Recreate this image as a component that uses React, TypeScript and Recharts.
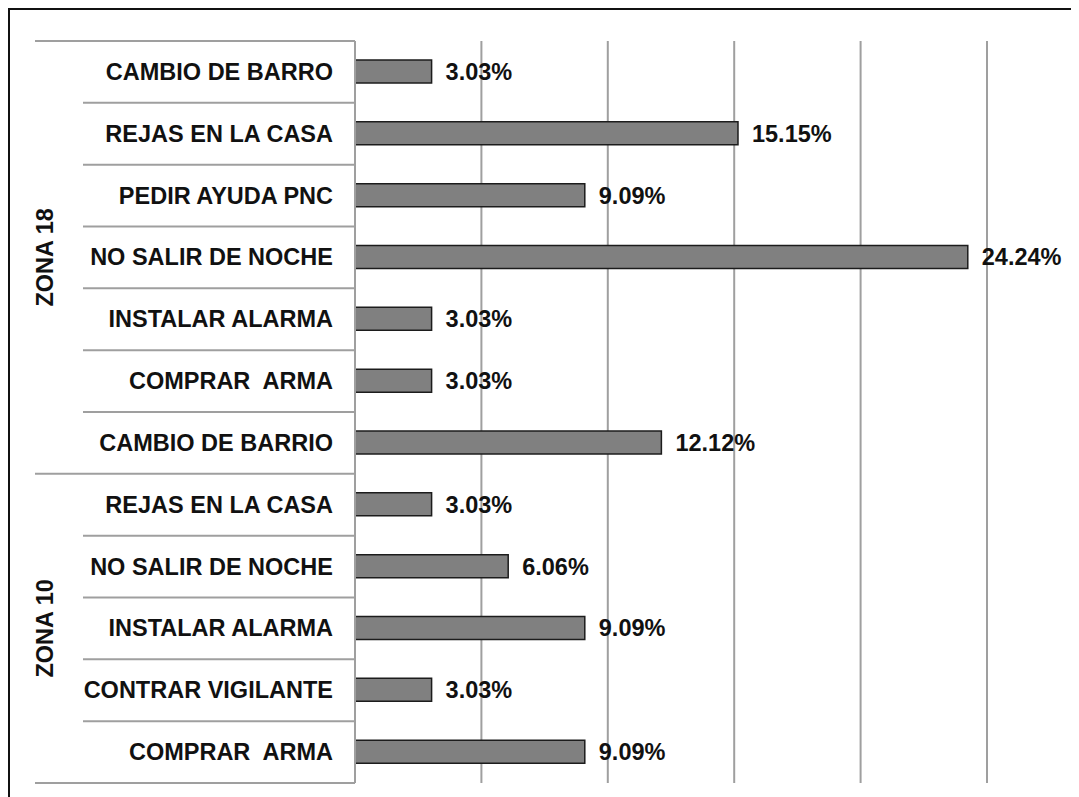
import React from "react";
import { BarChart, Bar, XAxis, YAxis, CartesianGrid, LabelList } from "recharts";

const labels = [
  "CAMBIO DE BARRO",
  "REJAS EN LA CASA",
  "PEDIR AYUDA PNC",
  "NO SALIR DE NOCHE",
  "INSTALAR ALARMA",
  "COMPRAR  ARMA",
  "CAMBIO DE BARRIO",
  "REJAS EN LA CASA",
  "NO SALIR DE NOCHE",
  "INSTALAR ALARMA",
  "CONTRAR VIGILANTE",
  "COMPRAR  ARMA",
];
const values = [3.03, 15.15, 9.09, 24.24, 3.03, 3.03, 12.12, 3.03, 6.06, 9.09, 3.03, 9.09];
const groups = [
  { name: "ZONA 18", start: 0, count: 7 },
  { name: "ZONA 10", start: 7, count: 5 },
];
const xTicks = [0, 5, 10, 15, 20, 25];

const data = labels.map((label, i) => ({ id: String(i), label, value: values[i] }));

const W = 1061;
const H = 785;
const M = { top: 31, right: 84, bottom: 12, left: 0 };
const AXIS_W = 345;
const ROW_H = (H - M.top - M.bottom) / labels.length;
const FONT = "'Liberation Sans', Arial, sans-serif";
const FS = 23.5;
const LINE = "#9f9f9f";

function CategoryTick(props: any) {
  const { y, payload } = props;
  const i = Number(payload.value);
  const ax = M.left + AXIS_W;
  const bottom = y + ROW_H / 2;
  const top = y - ROW_H / 2;
  const groupEnd = groups.some((g) => g.start + g.count - 1 === i);
  const group = groups.find((g) => g.start === i);
  return (
    <g>
      {i === 0 && <line x1={25} x2={ax} y1={top} y2={top} stroke={LINE} strokeWidth={2} />}
      <line x1={groupEnd ? 25 : 73} x2={ax} y1={bottom} y2={bottom} stroke={LINE} strokeWidth={2} />
      <text
        x={ax - 22}
        y={y}
        textAnchor="end"
        dominantBaseline="central"
        fontFamily={FONT}
        fontWeight="bold"
        fontSize={FS}
        fill="#111"
        style={{ whiteSpace: "pre" }}
      >
        {labels[i]}
      </text>
      {group && (
        <text
          x={0}
          y={0}
          transform={`translate(35, ${top + (group.count * ROW_H) / 2}) rotate(-90)`}
          textAnchor="middle"
          dominantBaseline="central"
          fontFamily={FONT}
          fontWeight="bold"
          fontSize={FS}
          fill="#111"
        >
          {group.name}
        </text>
      )}
    </g>
  );
}

export default function App() {
  return (
    <div
      style={{
        width: W,
        height: 800,
        border: "2px solid #111",
        background: "#fff",
        overflow: "hidden",
      }}
    >
      <BarChart width={W} height={H} data={data} layout="vertical" margin={M}>
        <CartesianGrid horizontal={false} vertical stroke={LINE} strokeWidth={2} />
        <XAxis type="number" domain={[0, 25]} ticks={xTicks} hide />
        <YAxis
          type="category"
          dataKey="id"
          width={AXIS_W}
          axisLine={{ stroke: LINE, strokeWidth: 2 }}
          tickLine={false}
          interval={0}
          tick={<CategoryTick />}
        />
        <Bar dataKey="value" fill="#808080" stroke="#1c1c1c" strokeWidth={1.5} barSize={23} isAnimationActive={false}>
          <LabelList
            dataKey="value"
            position="right"
            offset={14}
            formatter={(v: any) => `${Number(v).toFixed(2)}%`}
            fontFamily={FONT}
            fontWeight="bold"
            fontSize={FS}
            fill="#111"
          />
        </Bar>
      </BarChart>
    </div>
  );
}
